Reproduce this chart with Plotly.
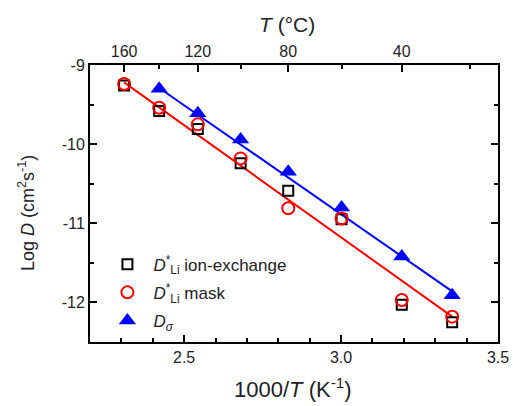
import plotly.graph_objects as go

# ---- data ----
temps_C = [160, 140, 120, 100, 80, 60, 40, 25]          # measurement temperatures
logD_ion = [-9.26, -9.58, -9.81, -10.24, -10.59, -10.95, -12.03, -12.25]
logD_mask = [-9.24, -9.54, -9.75, -10.18, -10.81, -10.94, -11.97, -12.18]
temps_sigma_C = [140, 120, 100, 80, 60, 40, 25]
logD_sigma = [-9.30, -9.61, -9.94, -10.35, -10.80, -11.42, -11.91]

# fitted lines (end points)
fit_red_T = [160, 25]
fit_red_y = [-9.22, -12.18]
fit_blue_T = [140, 25]
fit_blue_y = [-9.29, -11.86]

# axis ticks
x_ticks = [2.5, 3.0, 3.5]
x_ticklabels = ["2.5", "3.0", "3.5"]
y_ticks = [-9, -10, -11, -12]
y_ticklabels = ["-9", "-10", "-11", "-12"]
top_T_major = [160, 120, 80, 40]
top_T_minor = [140, 100, 60, 20]


def inv(tc):
    return [1000.0 / (t + 273.15) for t in tc]


FONT = "Arial, Liberation Sans, sans-serif"
TXT = "#222"
RED = "#ff0000"
BLUE = "#0000ff"

fig = go.Figure()

fig.add_trace(go.Scatter(x=inv(fit_red_T), y=fit_red_y, mode="lines",
                         line=dict(color=RED, width=2), showlegend=False, hoverinfo="skip"))
fig.add_trace(go.Scatter(x=inv(fit_blue_T), y=fit_blue_y, mode="lines",
                         line=dict(color=BLUE, width=2), showlegend=False, hoverinfo="skip"))

fig.add_trace(go.Scatter(
    x=inv(temps_C), y=logD_ion, mode="markers",
    name="<i>D</i><sup>*</sup><sub>Li</sub> ion-exchange", legendgroup="a",
    marker=dict(symbol="square-open", size=10, color="black", line=dict(width=2, color="black"))))
fig.add_trace(go.Scatter(
    x=inv(temps_C), y=logD_mask, mode="markers",
    name="<i>D</i><sup>*</sup><sub>Li</sub> mask", legendgroup="b",
    marker=dict(symbol="circle-open", size=12, color=RED, line=dict(width=2, color=RED))))
fig.add_trace(go.Scatter(
    x=inv(temps_sigma_C), y=logD_sigma, mode="markers",
    name="<i>D</i><sub><i>σ</i></sub>", legendgroup="c",
    marker=dict(symbol="triangle-up", size=15, color=BLUE, line=dict(width=0))))

# invisible trace to activate the top axis
fig.add_trace(go.Scatter(x=[2.2, 3.5], y=[-9, -9], xaxis="x2", mode="markers",
                         marker=dict(opacity=0), showlegend=False, hoverinfo="skip"))

axis_common = dict(showline=True, linecolor="black", linewidth=2, ticks="inside",
                   tickcolor="black", tickwidth=1.5, ticklen=7, showgrid=False,
                   zeroline=False, automargin=False,
                   tickfont=dict(family=FONT, size=16, color=TXT))
minor_common = dict(ticks="inside", ticklen=4, tickcolor="black", tickwidth=1.5)

fig.update_layout(
    width=513, height=406,
    margin=dict(l=90, r=15, t=65, b=64),
    paper_bgcolor="white", plot_bgcolor="white",
    font=dict(family=FONT, size=16, color=TXT),
    xaxis=dict(range=[2.2, 3.5], tickvals=x_ticks, ticktext=x_ticklabels,
               minor=dict(dtick=0.1, tick0=2.2, **minor_common), **axis_common),
    xaxis2=dict(range=[2.2, 3.5], overlaying="x", side="top", anchor="y",
                tickvals=inv(top_T_major), ticktext=[str(t) for t in top_T_major],
                minor=dict(tickvals=inv(top_T_minor), **minor_common), **axis_common),
    yaxis=dict(range=[-12.5, -9], tickvals=y_ticks, ticktext=y_ticklabels, mirror="ticks",
               minor=dict(dtick=0.5, tick0=-9, **minor_common), **axis_common),
    legend=dict(x=0.028, y=0.012, xanchor="left", yanchor="bottom",
                bgcolor="rgba(0,0,0,0)", font=dict(family=FONT, size=17, color=TXT),
                tracegroupgap=3, itemsizing="trace", itemwidth=42),
    annotations=[
        dict(text="1000/<i>T</i> (K<sup>-1</sup>)", xref="paper", yref="paper", x=0.4975, y=-0.166,
             xanchor="center", yanchor="middle", showarrow=False, font=dict(family=FONT, size=22, color=TXT)),
        dict(text="<i>T</i> (°C)", xref="paper", yref="paper", x=0.483, y=1.148,
             xanchor="center", yanchor="middle", showarrow=False, font=dict(family=FONT, size=21, color=TXT)),
        dict(text="Log <i>D</i> (cm<sup>2</sup>s<sup>-1</sup>)", xref="paper", yref="paper", x=-0.154, y=0.466,
             xanchor="center", yanchor="middle", textangle=-90, showarrow=False,
             font=dict(family=FONT, size=18, color=TXT)),
    ],
)

fig.write_html("out.html", config={"displayModeBar": False},
               post_script="document.body.style.margin='0';document.body.style.overflow='hidden';")
